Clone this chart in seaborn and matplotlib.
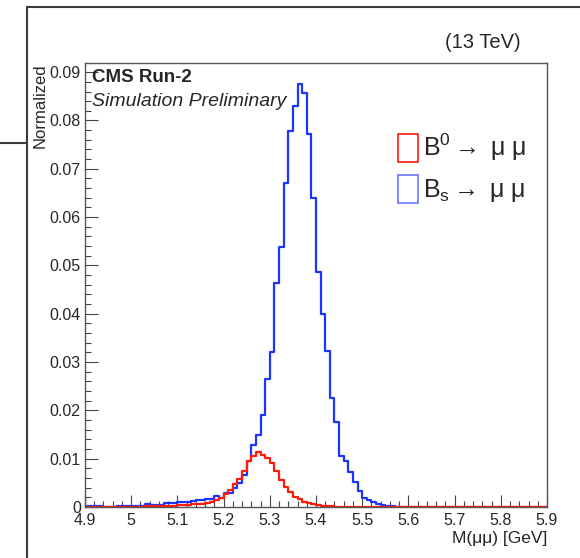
import numpy as np
import pandas as pd
import matplotlib
matplotlib.use("Agg")
import matplotlib.pyplot as plt
import seaborn as sns
from matplotlib.lines import Line2D
from matplotlib.patches import Patch

# bin edges of M(mumu): 100 bins, 4.9 - 5.9 GeV
n_bins = 100
x_range = (4.9, 5.9)
edges = np.linspace(x_range[0], x_range[1], n_bins + 1)
centers = 0.5 * (edges[:-1] + edges[1:])

# normalized contents, bin by bin
bs_vals = [0.0002, 0.0002, 0.0002, 0.0002, 0.0, 0.0, 0.0, 0.0003, 0.0003, 0.0003,
           0.0003, 0.0003, 0.0003, 0.0006, 0.0004, 0.0004, 0.0005, 0.0009, 0.0008, 0.0008,
           0.0011, 0.0010, 0.0010, 0.0013, 0.0015, 0.0015, 0.0016, 0.0017, 0.0022, 0.0019,
           0.0030, 0.0030, 0.0039, 0.0049, 0.0066, 0.0095, 0.0128, 0.0150, 0.0190, 0.0265,
           0.0320, 0.0464, 0.0538, 0.0671, 0.0779, 0.0830, 0.0875, 0.0857, 0.0772, 0.0640,
           0.0487, 0.0399, 0.0322, 0.0225, 0.0176, 0.0106, 0.0095, 0.0072, 0.0052, 0.0033,
           0.0019, 0.0015, 0.0011, 0.0006, 0.0005, 0.0003, 0.0002, 0.0001, 0.0001, 0.0,
           0.0, 0.0001, 0.0, 0.0, 0.0, 0.0, 0.0, 0.0, 0.0, 0.0,
           0.0, 0.0, 0.0, 0.0, 0.0, 0.0, 0.0, 0.0, 0.0001, 0.0,
           0.0, 0.0, 0.0, 0.0, 0.0, 0.0, 0.0, 0.0, 0.0, 0.0]

b0_vals = [0.0001, 0.0, 0.0001, 0.0, 0.0001, 0.0, 0.0001, 0.0001, 0.0001, 0.0001,
           0.0001, 0.0001, 0.0001, 0.0002, 0.0002, 0.0002, 0.0002, 0.0003, 0.0003, 0.0003,
           0.0004, 0.0004, 0.0005, 0.0006, 0.0006, 0.0007, 0.0009, 0.0011, 0.0014, 0.0018,
           0.0027, 0.0036, 0.0047, 0.0057, 0.0075, 0.0095, 0.0106, 0.0113, 0.0107, 0.0101,
           0.0092, 0.0074, 0.0056, 0.0042, 0.0032, 0.0021, 0.0016, 0.0011, 0.0008, 0.0006,
           0.0004, 0.0003, 0.0002, 0.0002, 0.0001, 0.0, 0.0, 0.0, 0.0, 0.0,
           0.0, 0.0, 0.0, 0.0, 0.0, 0.0, 0.0, 0.0, 0.0, 0.0,
           0.0, 0.0, 0.0, 0.0, 0.0, 0.0, 0.0, 0.0, 0.0, 0.0,
           0.0, 0.0, 0.0, 0.0, 0.0, 0.0, 0.0, 0.0, 0.0, 0.0,
           0.0, 0.0, 0.0, 0.0, 0.0, 0.0, 0.0, 0.0, 0.0, 0.0]

xticks = [4.9, 5.0, 5.1, 5.2, 5.3, 5.4, 5.5, 5.6, 5.7, 5.8, 5.9]
xticklabels = ["4.9", "5", "5.1", "5.2", "5.3", "5.4", "5.5", "5.6", "5.7", "5.8", "5.9"]
yticks = [0, 0.01, 0.02, 0.03, 0.04, 0.05, 0.06, 0.07, 0.08, 0.09]
yticklabels = ["0", "0.01", "0.02", "0.03", "0.04", "0.05", "0.06", "0.07", "0.08", "0.09"]

df_bs = pd.DataFrame({"mass": centers, "w": bs_vals})
df_b0 = pd.DataFrame({"mass": centers, "w": b0_vals})

sns.set_style("white")
plt.rcParams['font.family'] = ['Liberation Sans', 'DejaVu Sans']
plt.rcParams['mathtext.fontset'] = 'custom'
plt.rcParams['mathtext.rm'] = 'Liberation Sans'
plt.rcParams['mathtext.it'] = 'Liberation Sans:italic'

RED = "#ff1a0a"
BLUE = "#1a35ff"

fig = plt.figure(figsize=(5.8, 5.58), dpi=100)
ax = fig.add_axes([85 / 580, 51 / 558, 462 / 580, 444 / 558])

sns.histplot(data=df_bs, x="mass", weights="w", bins=n_bins, binrange=x_range,
             element="step", fill=False, color=BLUE, linewidth=1.6, ax=ax)
sns.histplot(data=df_b0, x="mass", weights="w", bins=n_bins, binrange=x_range,
             element="step", fill=False, color=RED, linewidth=1.6, ax=ax)

ax.set_xlim(*x_range)
ax.set_ylim(0, 0.0919)
ax.set_xticks(xticks)
ax.set_xticklabels(xticklabels)
ax.set_yticks(yticks)
ax.set_yticklabels(yticklabels)
ax.set_xticks(np.arange(4.9, 5.9001, 0.02), minor=True)
ax.set_yticks(np.arange(0, 0.0919, 0.002), minor=True)
ax.tick_params(axis="both", which="both", direction="in", color="#444444",
               labelsize=11.5, bottom=True, left=True, top=False, right=False)
ax.tick_params(axis="both", which="major", length=9, width=0.8)
ax.tick_params(axis="both", which="minor", length=4.5, width=0.8)
ax.tick_params(axis="x", which="major", pad=4)
ax.tick_params(axis="y", which="major", pad=3)
for s in ax.spines.values():
    s.set_color("#555555")
    s.set_linewidth(1.0)

ax.set_xlabel("")
ax.set_ylabel("")
fig.text(547 / 580, 1 - 538 / 558, "M(μμ) [GeV]", ha="right", va="center", fontsize=12.5)
fig.text(40 / 580, 1 - 63 / 558, "Normalized", rotation=90, ha="center", va="top",
         fontsize=12)

fig.text(521 / 580, 1 - 42 / 558, "(13 TeV)", ha="right", va="center", fontsize=14.5)
fig.text(92 / 580, 1 - 78 / 558, "CMS Run-2", fontsize=13.5,
         fontweight="bold", ha="left", va="center")
fig.text(92 / 580, 1 - 101 / 558, "Simulation Preliminary", fontsize=14,
         fontstyle="italic", ha="left", va="center")

handles = [Patch(facecolor="white", edgecolor=RED, linewidth=1.2),
           Patch(facecolor="white", edgecolor="#6a78ff", linewidth=1.2)]
labels = [r"B$^{0}$$\rightarrow$ μ μ", r"B$_{\rm s}$$\rightarrow$ μ μ"]
ax.legend(handles, labels, loc="upper left", bbox_to_anchor=(398 / 580, 1 - 132 / 558),
          bbox_transform=fig.transFigure, frameon=False, fontsize=18,
          handlelength=0.8, handleheight=1.35, handletextpad=0.2,
          labelspacing=0.45, borderpad=0, borderaxespad=0)

# frame lines of the surrounding canvas
fig.add_artist(Line2D([27 / 580, 27 / 580], [0, 1 - 7 / 558], transform=fig.transFigure,
                      color="#3a3a3a", linewidth=1.5))
fig.add_artist(Line2D([27 / 580, 1], [1 - 7 / 558, 1 - 7 / 558], transform=fig.transFigure,
                      color="#3a3a3a", linewidth=1.5))
fig.add_artist(Line2D([0, 27 / 580], [1 - 143 / 558, 1 - 143 / 558], transform=fig.transFigure,
                      color="#3a3a3a", linewidth=1.5))

fig.savefig("out.png", dpi=100)
